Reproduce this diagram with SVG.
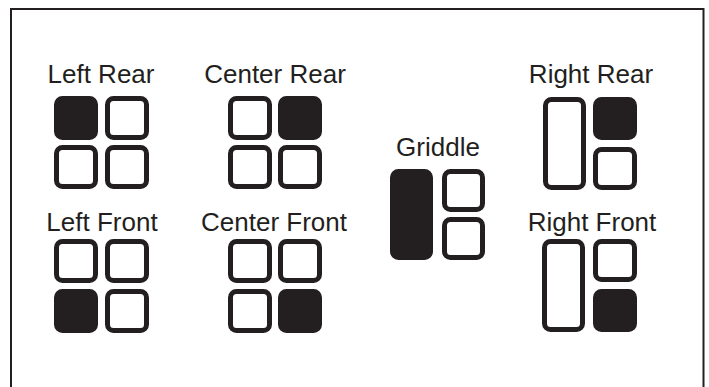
<svg xmlns="http://www.w3.org/2000/svg" width="709" height="387" viewBox="0 0 709 387">
<style>
.o{fill:#fff;stroke:#231f20;stroke-width:5}
.f{fill:#231f20;stroke:#231f20;stroke-width:5}
.t{font-family:"Liberation Sans",Arial,Helvetica,sans-serif;font-size:26px;fill:#231f20;text-anchor:middle}
</style>
<rect x="0" y="0" width="709" height="387" fill="#fff"/>
<path id="frame" d="M11,387 V9 H703.5 V387" fill="none" stroke="#231f20" stroke-width="2"/>
<g id="left-rear">
<text class="t" x="101" y="83">Left Rear</text>
<rect class="f" x="56.5" y="98.5" width="39" height="39" rx="6"/>
<rect class="o" x="107.5" y="98.5" width="39" height="39" rx="6"/>
<rect class="o" x="56.5" y="147.5" width="39" height="39" rx="6"/>
<rect class="o" x="107.5" y="147.5" width="39" height="39" rx="6"/>
</g>
<g id="left-front">
<text class="t" x="102" y="231">Left Front</text>
<rect class="o" x="56.5" y="241.5" width="39" height="39" rx="6"/>
<rect class="o" x="107.5" y="241.5" width="39" height="39" rx="6"/>
<rect class="f" x="56.5" y="291.5" width="39" height="39" rx="6"/>
<rect class="o" x="107.5" y="291.5" width="39" height="39" rx="6"/>
</g>
<g id="center-rear">
<text class="t" x="275" y="83">Center Rear</text>
<rect class="o" x="230.5" y="98.5" width="39" height="39" rx="6"/>
<rect class="f" x="280.5" y="98.5" width="39" height="39" rx="6"/>
<rect class="o" x="230.5" y="147.5" width="39" height="39" rx="6"/>
<rect class="o" x="280.5" y="147.5" width="39" height="39" rx="6"/>
</g>
<g id="center-front">
<text class="t" x="274" y="231">Center Front</text>
<rect class="o" x="230.5" y="241.5" width="39" height="39" rx="6"/>
<rect class="o" x="280.5" y="241.5" width="39" height="39" rx="6"/>
<rect class="o" x="230.5" y="291.5" width="39" height="39" rx="6"/>
<rect class="f" x="280.5" y="291.5" width="39" height="39" rx="6"/>
</g>
<g id="griddle">
<text class="t" x="438" y="156">Griddle</text>
<rect class="f" x="392.5" y="171.5" width="38" height="86" rx="6"/>
<rect class="o" x="444.5" y="171.5" width="38" height="38" rx="6"/>
<rect class="o" x="444.5" y="219.5" width="38" height="38" rx="6"/>
</g>
<g id="right-rear">
<text class="t" x="591" y="83">Right Rear</text>
<rect class="o" x="545.5" y="99.5" width="38" height="88" rx="6"/>
<rect class="f" x="595.5" y="99.5" width="39" height="38" rx="6"/>
<rect class="o" x="595.5" y="149.5" width="39" height="38" rx="6"/>
</g>
<g id="right-front">
<text class="t" x="592" y="231">Right Front</text>
<rect class="o" x="544.5" y="241.5" width="38" height="88" rx="6"/>
<rect class="o" x="595.5" y="241.5" width="39" height="38" rx="6"/>
<rect class="f" x="595.5" y="291.5" width="39" height="38" rx="6"/>
</g>
<g id="connectors"></g>
</svg>
